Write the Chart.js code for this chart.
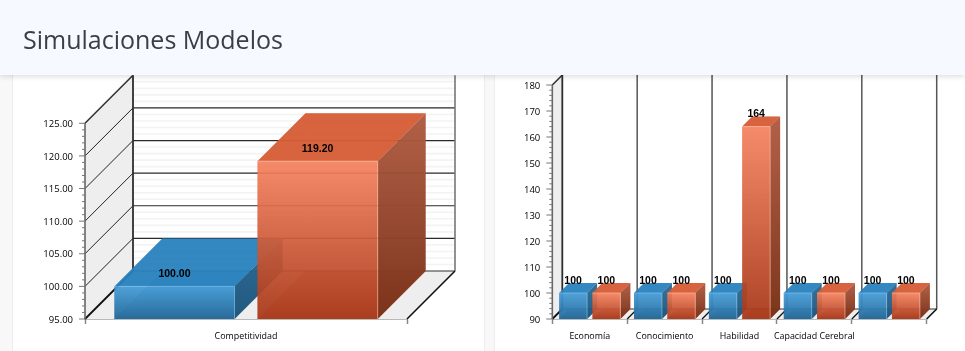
<!DOCTYPE html>
<html lang="es">
<head>
<meta charset="utf-8">
<title>Simulaciones Modelos</title>
<script src="https://cdn.jsdelivr.net/npm/chart.js@4/dist/chart.umd.min.js"></script>
<style>
html,body{margin:0;padding:0;width:965px;height:351px;overflow:hidden;background:#f8f8f8}
#header{position:absolute;left:0;top:0;width:965px;height:75px;background:#f6f9ff;z-index:5;box-shadow:0 1px 6px rgba(0,0,0,.16)}
#header h1{margin:0;position:absolute;left:23px;top:21px;font:400 25px/36px "Open Sans",sans-serif;color:#3b3f43;white-space:nowrap}
.card{position:absolute;top:0;height:380px;background:#fff;border:1px solid #ededed;box-sizing:border-box}
#c1{left:12px;width:473px}
#c2{left:494px;width:490px}
canvas{position:absolute;top:0;z-index:1}
#a{left:13px}
#b{left:495px}
</style>
</head>
<body>
<div id="header"><h1>Simulaciones Modelos</h1></div>
<div class="card" id="c1"></div>
<div class="card" id="c2"></div>
<canvas id="a" width="471" height="351"></canvas>
<canvas id="b" width="470" height="351"></canvas>
<script>
const leftCategories = ['Competitividad'];
const leftBlue = [100.00];
const leftOrange = [119.20];
const leftMin = 95, leftMax = 125, leftMajorStep = 5, leftMinorStep = 1;

const rightCategories = ['Economía', 'Conocimiento', 'Habilidad', 'Capacidad Cerebral', ''];
const rightBlue = [100, 100, 100, 100, 100];
const rightOrange = [100, 100, 164, 100, 100];
const rightMin = 90, rightMax = 180, rightMajorStep = 10, rightMinorStep = 2;

const palette = {
  blue: {frontTop:'rgba(68,156,216,.92)', frontBot:'rgba(36,104,152,.95)', top:'rgba(40,130,190,.94)',
         sideTop:'rgba(38,104,148,.92)', sideBot:'rgba(30,84,122,.95)', inner:'rgba(30,110,165,.18)',
         bottom:'rgba(30,100,150,.55)', edge:'rgba(140,200,240,.55)'},
  orange:{frontTop:'rgba(246,130,94,.90)', frontBot:'rgba(168,56,24,.93)', top:'rgba(214,94,54,.95)',
         sideTop:'rgba(176,92,66,.96)', sideBot:'rgba(120,48,22,.97)', inner:'rgba(170,60,25,.18)',
         bottom:'rgba(170,60,25,.55)', edge:'rgba(255,190,165,.6)'}
};

function poly(c, pts, fill){
  c.beginPath(); c.moveTo(pts[0][0], pts[0][1]);
  for (let i = 1; i < pts.length; i++) c.lineTo(pts[i][0], pts[i][1]);
  c.closePath(); c.fillStyle = fill; c.fill();
}
function seg(c, x1, y1, x2, y2, color, w){
  c.beginPath(); c.moveTo(x1, y1); c.lineTo(x2, y2); c.strokeStyle = color; c.lineWidth = w; c.stroke();
}
function frontGradient(context, pal){
  const chart = context.chart, y = chart.scales.y;
  if (context.type !== 'data' || !y) return pal.frontTop;
  const p0 = y.getPixelForValue(context.raw), p1 = y.getPixelForValue(y.min);
  if (!Number.isFinite(p0) || !Number.isFinite(p1)) return pal.frontTop;
  const g = chart.ctx.createLinearGradient(0, p0, 0, p1);
  g.addColorStop(0, pal.frontTop); g.addColorStop(1, pal.frontBot);
  return g;
}

function drawWalls(chart, o){
  const c = chart.ctx, a = chart.chartArea, d = o.depth, y = chart.scales.y, x = chart.scales.x;
  const L = a.left, R = a.right, T = a.top, B = a.bottom, bx = L + d, by = B - d;
  c.save();
  poly(c, [[L,B],[bx,by],[bx,T-d],[L,T]], '#eeeeee');
  poly(c, [[L,B],[bx,by],[R+d,by],[R,B]], '#eeeeee');
  if (o.minorGrid){
    for (let v = y.min; v <= y.max; v += o.minor){
      if ((v - y.min) % o.major === 0) continue;
      const p = y.getPixelForValue(v) - d;
      seg(c, bx, p, R + d, p, '#f3f3f3', 1.6);
    }
    for (let v = y.min + o.major; v < y.max; v += o.major){
      const p = y.getPixelForValue(v);
      seg(c, bx, p - d, R + d, p - d, '#2a2a2a', 1.2);
    }
  }
  for (let v = y.min + o.major; v < y.max; v += o.major){
    if (!o.minorGrid) break;
    const p = y.getPixelForValue(v);
    seg(c, L, p, bx, p - d, '#222', 1);
  }
  for (let i = 1; i <= x.ticks.length; i++){
    const px = L + (R - L) * i / x.ticks.length;
    if (i < x.ticks.length && o.catWalls) seg(c, px, B, px + d, by, '#111', 1.2);
    if (o.catWalls) seg(c, px + d, by, px + d, T - d, '#555', 1.5);
  }
  seg(c, bx, by, R + d, by, '#333', 1.2);
  seg(c, bx, T - d, bx, by, '#2e2e2e', 1.8);
  if (!o.catWalls) seg(c, R + d, T - d, R + d, by, '#777', 1.6);
  seg(c, L, T, bx, T - d, '#333', 1.6);
  seg(c, L, B, bx, by, '#111', 1.8);
  seg(c, R, B, R + d, by, '#111', 1.6);
  seg(c, L, T, L, B, '#666', 1.6);
  for (let v = y.min; v <= y.max; v += o.minor){
    const p = y.getPixelForValue(v);
    const major = (v - y.min) % o.major === 0;
    seg(c, L - (major ? 6 : 3), p, L, p, '#777', 1);
  }
  c.restore();
}

function drawDepthFaces(chart, index, o){
  const c = chart.ctx, d = o.depth, pal = chart.data.datasets[index].pal;
  c.save();
  chart.getDatasetMeta(index).data.forEach(bar => {
    const l = bar.x - bar.width / 2, r = bar.x + bar.width / 2, t = bar.y, b = bar.base;
    poly(c, [[l+d,t-d],[r+d,t-d],[r+d,b-d],[l+d,b-d]], pal.inner);
    poly(c, [[l,t],[l+d,t-d],[l+d,b-d],[l,b]], pal.inner);
    poly(c, [[l,b],[l+d,b-d],[r+d,b-d],[r,b]], pal.bottom);
    poly(c, [[l,t],[l+d,t-d],[r+d,t-d],[r,t]], pal.top);
    const g = c.createLinearGradient(0, t - d, 0, b);
    g.addColorStop(0, pal.sideTop); g.addColorStop(1, pal.sideBot);
    poly(c, [[r,t],[r+d,t-d],[r+d,b-d],[r,b]], g);
  });
  c.restore();
}

function drawEdges(chart, index){
  const c = chart.ctx, pal = chart.data.datasets[index].pal;
  c.save();
  chart.getDatasetMeta(index).data.forEach(bar => {
    const l = bar.x - bar.width / 2, r = bar.x + bar.width / 2;
    seg(c, l, bar.y, r, bar.y, pal.edge, 1);
    seg(c, r, bar.y, r, bar.base, pal.edge, 1);
  });
  c.restore();
}

const box3d = {
  id: 'box3d',
  beforeDatasetsDraw(chart, args, o){
    drawWalls(chart, o);
    chart.data.datasets.forEach((ds, i) => {
      drawDepthFaces(chart, i, o);
      chart.getDatasetMeta(i).controller.draw();
      drawEdges(chart, i);
    });
  },
  beforeDatasetDraw(){ return false; },
  afterDatasetsDraw(chart, args, o){
    const c = chart.ctx;
    c.save();
    c.font = 'bold 10.5px "Liberation Sans", sans-serif';
    c.fillStyle = '#000'; c.textAlign = 'center'; c.textBaseline = 'middle';
    chart.data.datasets.forEach((ds, i) => {
      chart.getDatasetMeta(i).data.forEach((bar, j) => {
        c.fillText(ds.data[j].toFixed(o.decimals), bar.x, bar.y - 12);
      });
    });
    c.restore();
  }
};

function build(id, cats, blue, orange, cfg){
  return new Chart(document.getElementById(id), {
    type: 'bar',
    plugins: [box3d],
    data: {
      labels: cats,
      datasets: [
        {data: blue, pal: palette.blue, base: cfg.min, backgroundColor: ctx => frontGradient(ctx, palette.blue),
         barPercentage: .84, categoryPercentage: .889},
        {data: orange, pal: palette.orange, base: cfg.min, backgroundColor: ctx => frontGradient(ctx, palette.orange),
         barPercentage: .84, categoryPercentage: .889}
      ]
    },
    options: {
      responsive: false, animation: false, maintainAspectRatio: false,
      layout: {padding: {top: cfg.top, right: cfg.right, left: 0, bottom: 0}},
      plugins: {
        legend: {display: false}, title: {display: false}, tooltip: {enabled: false},
        box3d: {depth: cfg.depth, major: cfg.major, minor: cfg.minor, decimals: cfg.decimals,
                minorGrid: cfg.minorGrid, catWalls: cfg.catWalls}
      },
      scales: {
        x: {
          offset: true,
          border: {display: true, color: '#777', width: 1.6},
          grid: {display: true, drawOnChartArea: false, offset: true, tickLength: 5, tickColor: '#888', tickWidth: 1.5},
          ticks: {autoSkip: false, maxRotation: 0, minRotation: 0, padding: 7, color: '#000',
                  font: {family: '"Open Sans", sans-serif', size: 8.9}},
          afterFit(s){ s.height = 32; }
        },
        y: {
          min: cfg.min, max: cfg.max,
          border: {display: false},
          grid: {display: false},
          ticks: {stepSize: cfg.major, padding: 4, labelOffset: 1, color: '#000', autoSkip: false,
                  font: {family: '"Open Sans", sans-serif', size: 9.5},
                  callback: v => Number(v).toFixed(cfg.decimals)},
          afterFit(s){ s.width = cfg.axisWidth; }
        }
      }
    }
  });
}

build('a', leftCategories, leftBlue, leftOrange, {
  top: 123.3, right: 77, axisWidth: 72, depth: 48, min: leftMin, max: leftMax,
  major: leftMajorStep, minor: leftMinorStep, decimals: 2, minorGrid: true, catWalls: false
});
build('b', rightCategories, rightBlue, rightOrange, {
  top: 85, right: 38.3, axisWidth: 57.3, depth: 10, min: rightMin, max: rightMax,
  major: rightMajorStep, minor: rightMinorStep, decimals: 0, minorGrid: false, catWalls: true
});
</script>
</body>
</html>
